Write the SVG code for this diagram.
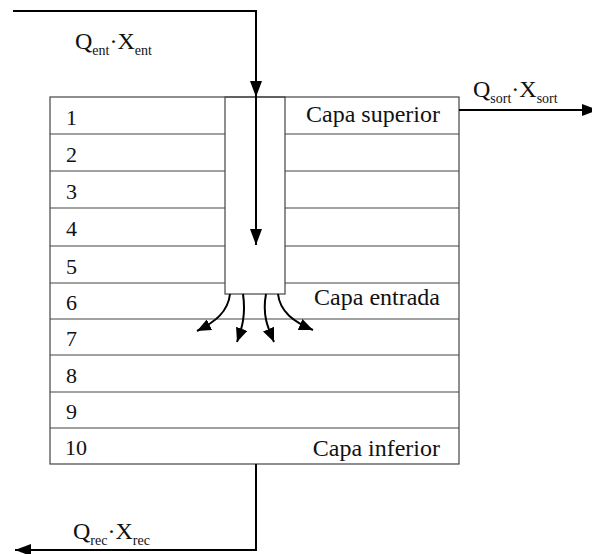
<svg xmlns="http://www.w3.org/2000/svg" width="592" height="554" viewBox="0 0 592 554">
<style>
.t{font-family:"Liberation Serif","Times New Roman",serif;font-size:24px;fill:#111}
.d{font-size:22px}
.s{font-size:14px}
.row{stroke:#444;stroke-width:1.2;fill:none}
.flow{stroke:#000;stroke-width:2;fill:none}
</style>
<defs>
<marker id="ahb" viewBox="0 0 16 12" refX="16" refY="6" markerWidth="16" markerHeight="12" markerUnits="userSpaceOnUse" orient="auto">
<path d="M0,0 L16,6 L0,12 z" fill="#000"/>
</marker>
<marker id="ahs" viewBox="0 0 14 12" refX="14" refY="6" markerWidth="14" markerHeight="12" markerUnits="userSpaceOnUse" orient="auto">
<path d="M0,0 L14,6 L0,12 z" fill="#000"/>
</marker>
</defs>
<rect width="592" height="554" fill="#fff"/>
<g id="reactor">
<rect x="50" y="97" width="409" height="367" class="row"/>
<path class="row" d="M50,134H225M285,134H459M50,171H225M285,171H459M50,208H225M285,208H459M50,246H225M285,246H459M50,283H225M285,283H459M50,319H459M50,355H459M50,392H459M50,428H459"/>
<rect x="225" y="97" width="60" height="197" fill="#fff" class="row"/>
</g>
<g id="layers">
<text class="t d" x="66" y="125">1</text>
<text class="t d" x="66" y="162">2</text>
<text class="t d" x="66" y="199">3</text>
<text class="t d" x="66" y="236">4</text>
<text class="t d" x="66" y="274">5</text>
<text class="t d" x="66" y="310">6</text>
<text class="t d" x="66" y="346">7</text>
<text class="t d" x="66" y="383">8</text>
<text class="t d" x="66" y="419">9</text>
<text class="t d" x="65" y="455">10</text>
<text class="t" x="440" y="122" text-anchor="end">Capa superior</text>
<text class="t" x="440" y="305" text-anchor="end">Capa entrada</text>
<text class="t" x="440" y="456" text-anchor="end">Capa inferior</text>
</g>
<g id="connectors">
<path class="flow" d="M13,11H256V97" marker-end="url(#ahb)"/>
<path class="flow" d="M256,97V245" marker-end="url(#ahb)"/>
<path class="flow" d="M459,110H598" marker-end="url(#ahb)"/>
<path class="flow" d="M256,464V550H15" marker-end="url(#ahb)"/>
<path class="flow" d="M230,294C228,312 215,322 197,331" marker-end="url(#ahs)"/>
<path class="flow" d="M243,294C246,315 242,328 237,342" marker-end="url(#ahs)"/>
<path class="flow" d="M266,294C262,315 268,328 274,342" marker-end="url(#ahs)"/>
<path class="flow" d="M278,294C280,312 294,322 313,330" marker-end="url(#ahs)"/>
</g>
<g id="labels">
<text class="t" x="75" y="49">Q<tspan class="s" dy="6">ent</tspan><tspan dy="-6">·X</tspan><tspan class="s" dy="6">ent</tspan></text>
<text class="t" x="473" y="97">Q<tspan class="s" dy="6">sort</tspan><tspan dy="-6">·X</tspan><tspan class="s" dy="6">sort</tspan></text>
<text class="t" x="73" y="539">Q<tspan class="s" dy="6">rec</tspan><tspan dy="-6">·X</tspan><tspan class="s" dy="6">rec</tspan></text>
</g>
</svg>
